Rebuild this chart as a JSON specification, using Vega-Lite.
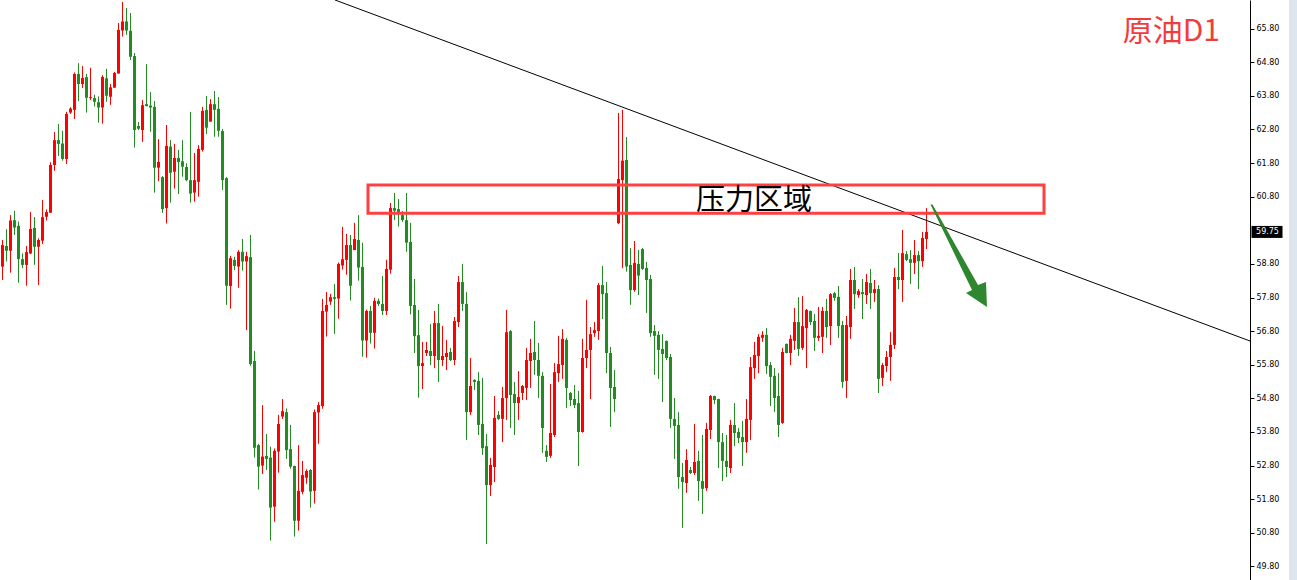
{
"$schema": "https://vega.github.io/schema/vega-lite/v6.json",
"width": 1250,
"height": 580,
"autosize": {"type": "none"},
"padding": {"left": 0, "top": 0, "right": 47, "bottom": 0},
"background": "white",
"config": {"view": {"stroke": null}},
"datasets": {
"candles": [
{"i":0,"o":58.72,"h":59.51,"l":58.32,"c":59.36},
{"i":1,"o":59.33,"h":59.83,"l":58.87,"c":59.19},
{"i":2,"o":59.19,"h":60.25,"l":58.54,"c":60.09},
{"i":3,"o":60.10,"h":60.38,"l":59.66,"c":59.88},
{"i":4,"o":59.93,"h":60.06,"l":58.24,"c":58.94},
{"i":5,"o":58.94,"h":59.11,"l":58.67,"c":58.77},
{"i":6,"o":58.77,"h":59.33,"l":58.15,"c":59.15},
{"i":7,"o":59.11,"h":60.34,"l":59.09,"c":59.84},
{"i":8,"o":59.87,"h":60.19,"l":58.77,"c":59.31},
{"i":9,"o":59.31,"h":59.56,"l":58.17,"c":59.51},
{"i":10,"o":59.49,"h":60.70,"l":59.39,"c":60.19},
{"i":11,"o":60.20,"h":60.42,"l":60.09,"c":60.34},
{"i":12,"o":60.32,"h":61.82,"l":60.32,"c":61.74},
{"i":13,"o":61.74,"h":62.72,"l":61.57,"c":62.48},
{"i":14,"o":62.48,"h":62.96,"l":62.01,"c":62.37},
{"i":15,"o":62.38,"h":62.76,"l":61.87,"c":61.92},
{"i":16,"o":61.92,"h":63.32,"l":61.77,"c":63.26},
{"i":17,"o":63.30,"h":63.46,"l":63.26,"c":63.42},
{"i":18,"o":63.38,"h":64.49,"l":63.11,"c":64.45},
{"i":19,"o":64.45,"h":64.77,"l":63.64,"c":64.15},
{"i":20,"o":64.15,"h":64.68,"l":64.03,"c":64.33},
{"i":21,"o":64.35,"h":64.45,"l":63.30,"c":63.74},
{"i":22,"o":63.73,"h":64.63,"l":63.67,"c":63.76},
{"i":23,"o":63.73,"h":63.83,"l":63.48,"c":63.62},
{"i":24,"o":63.61,"h":63.78,"l":63.00,"c":63.45},
{"i":25,"o":63.45,"h":64.41,"l":62.97,"c":64.36},
{"i":26,"o":64.32,"h":64.60,"l":63.62,"c":63.80},
{"i":27,"o":63.77,"h":64.15,"l":63.53,"c":64.05},
{"i":28,"o":64.04,"h":64.51,"l":64.04,"c":64.48},
{"i":29,"o":64.46,"h":65.96,"l":64.46,"c":65.76},
{"i":30,"o":65.74,"h":66.59,"l":65.56,"c":66.01},
{"i":31,"o":66.01,"h":66.41,"l":65.61,"c":65.74},
{"i":32,"o":65.73,"h":66.26,"l":64.86,"c":64.96},
{"i":33,"o":64.98,"h":65.07,"l":62.26,"c":62.78},
{"i":34,"o":62.90,"h":63.02,"l":62.78,"c":62.82},
{"i":35,"o":62.78,"h":63.67,"l":62.43,"c":63.52},
{"i":36,"o":63.55,"h":64.74,"l":63.49,"c":63.49},
{"i":37,"o":63.51,"h":63.91,"l":62.73,"c":63.45},
{"i":38,"o":63.47,"h":63.64,"l":60.92,"c":61.66},
{"i":39,"o":61.66,"h":62.51,"l":61.26,"c":61.83},
{"i":40,"o":61.38,"h":61.41,"l":60.32,"c":60.43},
{"i":41,"o":60.46,"h":62.93,"l":60.00,"c":62.31},
{"i":42,"o":62.29,"h":62.48,"l":60.62,"c":61.51},
{"i":43,"o":61.54,"h":62.37,"l":61.04,"c":61.95},
{"i":44,"o":61.95,"h":62.19,"l":60.88,"c":61.83},
{"i":45,"o":61.85,"h":62.48,"l":61.39,"c":61.69},
{"i":46,"o":61.68,"h":61.79,"l":61.26,"c":61.29},
{"i":47,"o":61.29,"h":63.32,"l":60.62,"c":60.89},
{"i":48,"o":60.92,"h":62.10,"l":60.65,"c":61.29},
{"i":49,"o":61.24,"h":62.33,"l":60.80,"c":62.22},
{"i":50,"o":62.19,"h":63.47,"l":62.14,"c":63.35},
{"i":51,"o":63.38,"h":63.79,"l":62.66,"c":62.85},
{"i":52,"o":63.03,"h":63.70,"l":63.03,"c":63.55},
{"i":53,"o":63.55,"h":63.94,"l":62.58,"c":63.38},
{"i":54,"o":63.41,"h":63.76,"l":62.58,"c":62.76},
{"i":55,"o":62.75,"h":62.81,"l":61.00,"c":61.29},
{"i":56,"o":61.35,"h":61.38,"l":57.58,"c":58.15},
{"i":57,"o":58.14,"h":59.04,"l":57.47,"c":58.97},
{"i":58,"o":58.92,"h":59.01,"l":58.62,"c":58.74},
{"i":59,"o":58.72,"h":59.21,"l":58.09,"c":59.16},
{"i":60,"o":59.16,"h":59.54,"l":58.60,"c":58.87},
{"i":61,"o":58.87,"h":59.16,"l":56.83,"c":59.03},
{"i":62,"o":59.00,"h":59.66,"l":55.77,"c":55.82},
{"i":63,"o":55.91,"h":56.21,"l":53.04,"c":53.33},
{"i":64,"o":53.41,"h":53.45,"l":52.09,"c":52.77},
{"i":65,"o":52.80,"h":54.60,"l":52.55,"c":53.07},
{"i":66,"o":53.09,"h":53.74,"l":52.67,"c":53.00},
{"i":67,"o":53.04,"h":53.36,"l":50.57,"c":51.55},
{"i":68,"o":51.58,"h":53.31,"l":51.13,"c":53.24},
{"i":69,"o":53.22,"h":54.31,"l":52.59,"c":54.04},
{"i":70,"o":54.26,"h":54.78,"l":54.19,"c":54.42},
{"i":71,"o":54.39,"h":54.50,"l":53.00,"c":53.26},
{"i":72,"o":53.29,"h":54.01,"l":52.71,"c":52.77},
{"i":73,"o":52.79,"h":52.80,"l":50.69,"c":51.16},
{"i":74,"o":51.16,"h":53.41,"l":50.87,"c":52.05},
{"i":75,"o":52.02,"h":52.94,"l":51.95,"c":52.52},
{"i":76,"o":52.44,"h":52.69,"l":52.26,"c":52.64},
{"i":77,"o":52.67,"h":52.70,"l":51.55,"c":52.03},
{"i":78,"o":52.05,"h":54.47,"l":51.67,"c":54.39},
{"i":79,"o":54.38,"h":54.69,"l":53.45,"c":54.60},
{"i":80,"o":54.57,"h":57.76,"l":54.49,"c":57.40},
{"i":81,"o":57.38,"h":57.96,"l":56.64,"c":57.58},
{"i":82,"o":57.68,"h":57.91,"l":57.58,"c":57.81},
{"i":83,"o":57.81,"h":58.20,"l":56.72,"c":57.76},
{"i":84,"o":57.77,"h":58.84,"l":57.17,"c":58.80},
{"i":85,"o":58.75,"h":59.90,"l":58.63,"c":58.94},
{"i":86,"o":58.92,"h":59.69,"l":58.48,"c":59.36},
{"i":87,"o":59.36,"h":59.66,"l":57.71,"c":58.15},
{"i":88,"o":59.21,"h":60.02,"l":59.21,"c":59.54},
{"i":89,"o":59.51,"h":60.25,"l":58.30,"c":58.69},
{"i":90,"o":58.71,"h":59.43,"l":56.04,"c":56.52},
{"i":91,"o":56.52,"h":57.44,"l":56.01,"c":57.40},
{"i":92,"o":57.40,"h":57.55,"l":56.43,"c":56.75},
{"i":93,"o":56.75,"h":57.79,"l":56.28,"c":57.70},
{"i":94,"o":57.70,"h":57.77,"l":57.55,"c":57.61},
{"i":95,"o":57.61,"h":58.44,"l":57.28,"c":57.40},
{"i":96,"o":57.40,"h":58.92,"l":57.28,"c":58.65},
{"i":97,"o":58.63,"h":60.61,"l":58.51,"c":60.46},
{"i":98,"o":60.46,"h":60.91,"l":60.10,"c":60.38},
{"i":99,"o":60.43,"h":60.73,"l":59.91,"c":60.33},
{"i":100,"o":60.25,"h":60.37,"l":60.05,"c":60.10},
{"i":101,"o":60.10,"h":60.91,"l":59.16,"c":59.43},
{"i":102,"o":59.45,"h":60.02,"l":57.30,"c":57.55},
{"i":103,"o":57.58,"h":58.35,"l":56.15,"c":56.65},
{"i":104,"o":56.68,"h":57.43,"l":54.82,"c":55.76},
{"i":105,"o":55.76,"h":56.48,"l":55.08,"c":55.85},
{"i":106,"o":56.15,"h":56.48,"l":56.06,"c":56.24},
{"i":107,"o":56.21,"h":57.01,"l":55.79,"c":56.06},
{"i":108,"o":56.06,"h":57.40,"l":55.70,"c":57.04},
{"i":109,"o":57.04,"h":57.61,"l":55.29,"c":55.94},
{"i":110,"o":55.94,"h":56.95,"l":55.76,"c":56.06},
{"i":111,"o":56.03,"h":56.54,"l":55.64,"c":56.15},
{"i":112,"o":56.18,"h":56.30,"l":55.91,"c":55.94},
{"i":113,"o":55.94,"h":57.22,"l":55.79,"c":57.10},
{"i":114,"o":57.07,"h":58.44,"l":56.92,"c":58.26},
{"i":115,"o":58.26,"h":58.80,"l":57.40,"c":57.61},
{"i":116,"o":57.61,"h":57.96,"l":53.56,"c":54.39},
{"i":117,"o":54.39,"h":56.00,"l":54.31,"c":55.17},
{"i":118,"o":55.35,"h":55.37,"l":55.05,"c":55.29},
{"i":119,"o":55.32,"h":55.58,"l":53.71,"c":54.01},
{"i":120,"o":54.04,"h":55.41,"l":53.12,"c":53.32},
{"i":121,"o":53.38,"h":53.74,"l":50.47,"c":52.22},
{"i":122,"o":52.22,"h":53.03,"l":51.90,"c":52.82},
{"i":123,"o":52.76,"h":54.87,"l":52.31,"c":54.22},
{"i":124,"o":54.31,"h":54.42,"l":54.16,"c":54.19},
{"i":125,"o":54.19,"h":55.14,"l":53.50,"c":54.81},
{"i":126,"o":54.81,"h":57.43,"l":54.16,"c":56.77},
{"i":127,"o":56.80,"h":56.83,"l":53.92,"c":54.90},
{"i":128,"o":54.93,"h":55.29,"l":53.71,"c":54.66},
{"i":129,"o":54.66,"h":55.61,"l":54.16,"c":54.84},
{"i":130,"o":54.96,"h":55.20,"l":54.75,"c":55.17},
{"i":131,"o":55.11,"h":56.30,"l":54.75,"c":55.94},
{"i":132,"o":55.91,"h":56.57,"l":55.11,"c":56.15},
{"i":133,"o":56.18,"h":57.10,"l":55.50,"c":55.94},
{"i":134,"o":55.94,"h":56.45,"l":54.81,"c":55.47},
{"i":135,"o":55.47,"h":55.58,"l":53.18,"c":53.92},
{"i":136,"o":53.24,"h":53.41,"l":52.91,"c":53.06},
{"i":137,"o":53.09,"h":55.23,"l":53.03,"c":53.77},
{"i":138,"o":53.71,"h":55.85,"l":53.65,"c":55.58},
{"i":139,"o":55.55,"h":56.66,"l":55.29,"c":55.82},
{"i":140,"o":55.79,"h":56.86,"l":55.38,"c":56.57},
{"i":141,"o":56.54,"h":56.60,"l":54.51,"c":55.11},
{"i":142,"o":54.96,"h":54.99,"l":54.57,"c":54.75},
{"i":143,"o":54.78,"h":55.20,"l":54.51,"c":54.60},
{"i":144,"o":54.66,"h":55.02,"l":52.79,"c":53.80},
{"i":145,"o":53.80,"h":56.57,"l":53.78,"c":56.00},
{"i":146,"o":56.00,"h":57.73,"l":55.70,"c":56.24},
{"i":147,"o":56.24,"h":56.92,"l":54.78,"c":56.71},
{"i":148,"o":56.74,"h":57.07,"l":56.63,"c":56.83},
{"i":149,"o":56.80,"h":58.23,"l":56.54,"c":58.17},
{"i":150,"o":58.17,"h":58.74,"l":57.16,"c":57.90},
{"i":151,"o":57.93,"h":58.26,"l":55.55,"c":56.15},
{"i":152,"o":56.15,"h":56.33,"l":53.95,"c":55.11},
{"i":153,"o":55.14,"h":55.64,"l":54.39,"c":54.78},
{"i":154,"o":60.01,"h":63.29,"l":59.98,"c":61.32},
{"i":155,"o":61.29,"h":63.38,"l":58.67,"c":61.87},
{"i":156,"o":61.89,"h":62.57,"l":58.57,"c":58.72},
{"i":157,"o":58.77,"h":59.27,"l":57.58,"c":58.02},
{"i":158,"o":58.02,"h":59.48,"l":57.97,"c":58.83},
{"i":159,"o":58.80,"h":59.21,"l":57.87,"c":58.45},
{"i":160,"o":59.24,"h":59.27,"l":58.62,"c":58.65},
{"i":161,"o":58.68,"h":58.86,"l":57.34,"c":58.32},
{"i":162,"o":58.35,"h":58.47,"l":56.63,"c":56.74},
{"i":163,"o":56.80,"h":56.98,"l":55.50,"c":56.66},
{"i":164,"o":56.69,"h":56.80,"l":55.38,"c":56.24},
{"i":165,"o":56.27,"h":56.71,"l":54.69,"c":56.12},
{"i":166,"o":56.51,"h":56.52,"l":55.94,"c":56.00},
{"i":167,"o":56.03,"h":56.12,"l":53.92,"c":54.19},
{"i":168,"o":54.19,"h":54.81,"l":53.00,"c":53.98},
{"i":169,"o":54.01,"h":54.39,"l":52.11,"c":52.46},
{"i":170,"o":52.46,"h":52.88,"l":50.95,"c":52.31},
{"i":171,"o":52.28,"h":53.29,"l":51.99,"c":52.97},
{"i":172,"o":52.67,"h":52.76,"l":52.55,"c":52.58},
{"i":173,"o":52.58,"h":54.04,"l":52.52,"c":52.91},
{"i":174,"o":52.94,"h":53.24,"l":51.75,"c":52.34},
{"i":175,"o":52.34,"h":53.71,"l":51.36,"c":52.11},
{"i":176,"o":52.13,"h":54.07,"l":52.05,"c":53.89},
{"i":177,"o":53.86,"h":54.90,"l":53.59,"c":54.87},
{"i":178,"o":54.87,"h":54.88,"l":54.63,"c":54.75},
{"i":179,"o":54.78,"h":54.79,"l":52.73,"c":53.50},
{"i":180,"o":53.50,"h":53.77,"l":52.34,"c":52.94},
{"i":181,"o":52.94,"h":53.71,"l":52.46,"c":52.76},
{"i":182,"o":52.73,"h":54.16,"l":52.58,"c":54.01},
{"i":183,"o":54.01,"h":54.66,"l":53.38,"c":53.77},
{"i":184,"o":53.80,"h":53.92,"l":53.47,"c":53.62},
{"i":185,"o":53.65,"h":54.13,"l":52.79,"c":53.50},
{"i":186,"o":53.50,"h":54.78,"l":53.18,"c":54.19},
{"i":187,"o":54.16,"h":56.03,"l":53.56,"c":55.73},
{"i":188,"o":55.70,"h":56.48,"l":55.38,"c":56.09},
{"i":189,"o":56.06,"h":56.71,"l":55.55,"c":56.63},
{"i":190,"o":56.60,"h":56.80,"l":56.48,"c":56.69},
{"i":191,"o":56.69,"h":56.89,"l":55.53,"c":55.76},
{"i":192,"o":55.79,"h":55.88,"l":54.57,"c":55.44},
{"i":193,"o":55.47,"h":55.70,"l":54.39,"c":54.81},
{"i":194,"o":54.87,"h":55.55,"l":53.65,"c":54.01},
{"i":195,"o":54.07,"h":56.30,"l":54.04,"c":56.18},
{"i":196,"o":56.42,"h":56.43,"l":56.14,"c":56.15},
{"i":197,"o":56.15,"h":56.69,"l":55.79,"c":56.57},
{"i":198,"o":56.51,"h":57.49,"l":56.24,"c":57.07},
{"i":199,"o":57.07,"h":57.81,"l":56.06,"c":56.27},
{"i":200,"o":56.30,"h":57.84,"l":56.24,"c":56.95},
{"i":201,"o":56.89,"h":57.46,"l":55.70,"c":57.43},
{"i":202,"o":57.40,"h":57.41,"l":56.98,"c":57.07},
{"i":203,"o":57.10,"h":57.31,"l":56.21,"c":56.60},
{"i":204,"o":56.60,"h":57.52,"l":56.51,"c":56.66},
{"i":205,"o":56.63,"h":57.52,"l":56.15,"c":57.40},
{"i":206,"o":57.40,"h":57.76,"l":56.60,"c":56.92},
{"i":207,"o":56.95,"h":57.93,"l":56.39,"c":57.90},
{"i":208,"o":57.93,"h":57.96,"l":57.70,"c":57.79},
{"i":209,"o":57.82,"h":58.14,"l":56.60,"c":56.95},
{"i":210,"o":56.98,"h":57.10,"l":55.11,"c":55.29},
{"i":211,"o":55.32,"h":57.25,"l":54.81,"c":56.98},
{"i":212,"o":56.92,"h":58.65,"l":56.57,"c":58.32},
{"i":213,"o":58.32,"h":58.71,"l":57.46,"c":57.90},
{"i":214,"o":57.87,"h":58.05,"l":57.79,"c":57.99},
{"i":215,"o":57.96,"h":58.35,"l":57.16,"c":57.90},
{"i":216,"o":57.87,"h":58.50,"l":57.61,"c":58.26},
{"i":217,"o":58.23,"h":58.65,"l":57.46,"c":57.93},
{"i":218,"o":57.93,"h":58.32,"l":57.67,"c":58.05},
{"i":219,"o":58.05,"h":58.17,"l":54.96,"c":55.38},
{"i":220,"o":55.41,"h":55.85,"l":55.17,"c":55.79},
{"i":221,"o":55.76,"h":56.21,"l":55.58,"c":56.03},
{"i":222,"o":56.03,"h":56.77,"l":55.32,"c":56.39},
{"i":223,"o":56.39,"h":58.68,"l":56.27,"c":58.41},
{"i":224,"o":58.41,"h":59.12,"l":58.05,"c":58.32},
{"i":225,"o":58.32,"h":59.81,"l":57.67,"c":59.12},
{"i":226,"o":59.09,"h":59.18,"l":58.88,"c":58.92},
{"i":227,"o":58.94,"h":59.21,"l":58.20,"c":58.83},
{"i":228,"o":58.83,"h":59.51,"l":58.50,"c":59.06},
{"i":229,"o":59.06,"h":59.18,"l":58.05,"c":58.88},
{"i":230,"o":58.88,"h":59.75,"l":58.71,"c":59.57},
{"i":231,"o":59.54,"h":60.46,"l":59.24,"c":59.75}
],
"trend": [{"i": 83.125, "price": 66.6476}, {"i": 311.875, "price": 56.506}],
"zone": [{"i0": 91.375, "i1": 260.375, "top": 61.146, "bottom": 60.304, "label": "压力区域", "mid": 187.875, "pmid": 60.67}],
"title": [{"i": 292.2, "price": 65.70, "label": "原油D1"}],
"arrow": [{"i": 239.0, "price": 59.049}],
"last": [{"price": 59.75, "label": "59.75"}]
},
"layer": [
{
"data": {"name": "candles"},
"mark": {"type": "rule", "strokeWidth": 1},
"encoding": {
"x": {"field": "i", "type": "quantitative", "scale": {"domain": [-0.625, 311.875], "nice": false, "zero": false, "padding": 0}, "axis": null},
"y": {"field": "l", "type": "quantitative", "scale": {"domain": [49.3985, 66.6476], "nice": false, "zero": false},
"axis": {"orient": "right", "values": [49.8, 50.8, 51.8, 52.8, 53.8, 54.8, 55.8, 56.8, 57.8, 58.8, 60.8, 61.8, 62.8, 63.8, 64.8, 65.8], "format": ".2f", "grid": false, "title": null, "domainColor": "#000000", "tickColor": "#000000", "tickSize": 4, "labelFont": "DejaVu Sans", "labelFontSize": 8, "labelColor": "#000000", "labelPadding": 2, "labelAlign": "left", "labelBaseline": "middle", "labelFlush": false, "labelOverlap": false, "labelBound": false}},
"y2": {"field": "h"},
"color": {"condition": {"test": "datum.c >= datum.o", "value": "#ff0000"}, "value": "#228b22"}
}
},
{
"data": {"name": "candles"},
"mark": {"type": "bar", "orient": "vertical", "size": 3},
"encoding": {
"x": {"field": "i", "type": "quantitative", "scale": {"domain": [-0.625, 311.875], "nice": false, "zero": false, "padding": 0}, "axis": null},
"y": {"field": "o", "type": "quantitative", "scale": {"domain": [49.3985, 66.6476], "nice": false, "zero": false},
"axis": {"orient": "right", "values": [49.8, 50.8, 51.8, 52.8, 53.8, 54.8, 55.8, 56.8, 57.8, 58.8, 60.8, 61.8, 62.8, 63.8, 64.8, 65.8], "format": ".2f", "grid": false, "title": null, "domainColor": "#000000", "tickColor": "#000000", "tickSize": 4, "labelFont": "DejaVu Sans", "labelFontSize": 8, "labelColor": "#000000", "labelPadding": 2, "labelAlign": "left", "labelBaseline": "middle", "labelFlush": false, "labelOverlap": false, "labelBound": false}},
"y2": {"field": "c"},
"color": {"condition": {"test": "datum.c >= datum.o", "value": "#ff0000"}, "value": "#228b22"}
}
},
{
"data": {"name": "trend"},
"mark": {"type": "line", "color": "#000000", "strokeWidth": 1, "clip": true},
"encoding": {
"x": {"field": "i", "type": "quantitative", "scale": {"domain": [-0.625, 311.875], "nice": false, "zero": false, "padding": 0}, "axis": null},
"y": {"field": "price", "type": "quantitative", "scale": {"domain": [49.3985, 66.6476], "nice": false, "zero": false},
"axis": {"orient": "right", "values": [49.8, 50.8, 51.8, 52.8, 53.8, 54.8, 55.8, 56.8, 57.8, 58.8, 60.8, 61.8, 62.8, 63.8, 64.8, 65.8], "format": ".2f", "grid": false, "title": null, "domainColor": "#000000", "tickColor": "#000000", "tickSize": 4, "labelFont": "DejaVu Sans", "labelFontSize": 8, "labelColor": "#000000", "labelPadding": 2, "labelAlign": "left", "labelBaseline": "middle", "labelFlush": false, "labelOverlap": false, "labelBound": false}}
}
},
{
"data": {"name": "zone"},
"mark": {"type": "rect", "filled": false, "stroke": "#ff4040", "strokeWidth": 3},
"encoding": {
"x": {"field": "i0", "type": "quantitative", "scale": {"domain": [-0.625, 311.875], "nice": false, "zero": false, "padding": 0}, "axis": null},
"x2": {"field": "i1"},
"y": {"field": "top", "type": "quantitative", "scale": {"domain": [49.3985, 66.6476], "nice": false, "zero": false},
"axis": {"orient": "right", "values": [49.8, 50.8, 51.8, 52.8, 53.8, 54.8, 55.8, 56.8, 57.8, 58.8, 60.8, 61.8, 62.8, 63.8, 64.8, 65.8], "format": ".2f", "grid": false, "title": null, "domainColor": "#000000", "tickColor": "#000000", "tickSize": 4, "labelFont": "DejaVu Sans", "labelFontSize": 8, "labelColor": "#000000", "labelPadding": 2, "labelAlign": "left", "labelBaseline": "middle", "labelFlush": false, "labelOverlap": false, "labelBound": false}},
"y2": {"field": "bottom"}
}
},
{
"data": {"name": "zone"},
"mark": {"type": "text", "font": "Noto Sans CJK SC", "fontSize": 29, "color": "#000000", "align": "center", "baseline": "middle"},
"encoding": {
"x": {"field": "mid", "type": "quantitative", "scale": {"domain": [-0.625, 311.875], "nice": false, "zero": false, "padding": 0}, "axis": null},
"y": {"field": "pmid", "type": "quantitative", "scale": {"domain": [49.3985, 66.6476], "nice": false, "zero": false},
"axis": {"orient": "right", "values": [49.8, 50.8, 51.8, 52.8, 53.8, 54.8, 55.8, 56.8, 57.8, 58.8, 60.8, 61.8, 62.8, 63.8, 64.8, 65.8], "format": ".2f", "grid": false, "title": null, "domainColor": "#000000", "tickColor": "#000000", "tickSize": 4, "labelFont": "DejaVu Sans", "labelFontSize": 8, "labelColor": "#000000", "labelPadding": 2, "labelAlign": "left", "labelBaseline": "middle", "labelFlush": false, "labelOverlap": false, "labelBound": false}},
"text": {"field": "label"}
}
},
{
"data": {"name": "title"},
"mark": {"type": "text", "font": "Noto Sans CJK SC", "fontSize": 30, "color": "#f23c3c", "align": "center", "baseline": "middle"},
"encoding": {
"x": {"field": "i", "type": "quantitative", "scale": {"domain": [-0.625, 311.875], "nice": false, "zero": false, "padding": 0}, "axis": null},
"y": {"field": "price", "type": "quantitative", "scale": {"domain": [49.3985, 66.6476], "nice": false, "zero": false},
"axis": {"orient": "right", "values": [49.8, 50.8, 51.8, 52.8, 53.8, 54.8, 55.8, 56.8, 57.8, 58.8, 60.8, 61.8, 62.8, 63.8, 64.8, 65.8], "format": ".2f", "grid": false, "title": null, "domainColor": "#000000", "tickColor": "#000000", "tickSize": 4, "labelFont": "DejaVu Sans", "labelFontSize": 8, "labelColor": "#000000", "labelPadding": 2, "labelAlign": "left", "labelBaseline": "middle", "labelFlush": false, "labelOverlap": false, "labelBound": false}},
"text": {"field": "label"}
}
},
{
"data": {"name": "arrow"},
"mark": {"type": "point", "filled": true, "color": "#2e862e", "opacity": 1, "strokeWidth": 0, "size": 10609,
"shape": "M-0.544,-0.990L-0.505,-0.990L0.379,0.573L0.534,0.515L0.553,1.0L0.146,0.728L0.262,0.670Z"},
"encoding": {
"x": {"field": "i", "type": "quantitative", "scale": {"domain": [-0.625, 311.875], "nice": false, "zero": false, "padding": 0}, "axis": null},
"y": {"field": "price", "type": "quantitative", "scale": {"domain": [49.3985, 66.6476], "nice": false, "zero": false},
"axis": {"orient": "right", "values": [49.8, 50.8, 51.8, 52.8, 53.8, 54.8, 55.8, 56.8, 57.8, 58.8, 60.8, 61.8, 62.8, 63.8, 64.8, 65.8], "format": ".2f", "grid": false, "title": null, "domainColor": "#000000", "tickColor": "#000000", "tickSize": 4, "labelFont": "DejaVu Sans", "labelFontSize": 8, "labelColor": "#000000", "labelPadding": 2, "labelAlign": "left", "labelBaseline": "middle", "labelFlush": false, "labelOverlap": false, "labelBound": false}}
}
},
{
"data": {"name": "last"},
"mark": {"type": "point", "filled": true, "color": "#000000", "opacity": 1, "strokeWidth": 0, "size": 961,
"shape": "M-1,-0.387L1,-0.387L1,0.387L-1,0.387Z"},
"encoding": {
"x": {"datum": 316.125, "type": "quantitative", "scale": {"domain": [-0.625, 311.875], "nice": false, "zero": false, "padding": 0}, "axis": null},
"y": {"field": "price", "type": "quantitative", "scale": {"domain": [49.3985, 66.6476], "nice": false, "zero": false},
"axis": {"orient": "right", "values": [49.8, 50.8, 51.8, 52.8, 53.8, 54.8, 55.8, 56.8, 57.8, 58.8, 60.8, 61.8, 62.8, 63.8, 64.8, 65.8], "format": ".2f", "grid": false, "title": null, "domainColor": "#000000", "tickColor": "#000000", "tickSize": 4, "labelFont": "DejaVu Sans", "labelFontSize": 8, "labelColor": "#000000", "labelPadding": 2, "labelAlign": "left", "labelBaseline": "middle", "labelFlush": false, "labelOverlap": false, "labelBound": false}}
}
},
{
"data": {"name": "last"},
"mark": {"type": "text", "font": "DejaVu Sans", "fontSize": 8, "color": "#ffffff", "align": "center", "baseline": "middle"},
"encoding": {
"x": {"datum": 316.25, "type": "quantitative", "scale": {"domain": [-0.625, 311.875], "nice": false, "zero": false, "padding": 0}, "axis": null},
"y": {"field": "price", "type": "quantitative", "scale": {"domain": [49.3985, 66.6476], "nice": false, "zero": false},
"axis": {"orient": "right", "values": [49.8, 50.8, 51.8, 52.8, 53.8, 54.8, 55.8, 56.8, 57.8, 58.8, 60.8, 61.8, 62.8, 63.8, 64.8, 65.8], "format": ".2f", "grid": false, "title": null, "domainColor": "#000000", "tickColor": "#000000", "tickSize": 4, "labelFont": "DejaVu Sans", "labelFontSize": 8, "labelColor": "#000000", "labelPadding": 2, "labelAlign": "left", "labelBaseline": "middle", "labelFlush": false, "labelOverlap": false, "labelBound": false}},
"text": {"field": "label"}
}
},
{
"data": {"name": "last"},
"mark": {"type": "rect", "color": "#dce6f1"},
"encoding": {
"x": {"datum": 322.125, "type": "quantitative", "scale": {"domain": [-0.625, 311.875], "nice": false, "zero": false, "padding": 0}, "axis": null},
"x2": {"datum": 323.7},
"y": {"datum": 66.6476, "type": "quantitative", "scale": {"domain": [49.3985, 66.6476], "nice": false, "zero": false},
"axis": {"orient": "right", "values": [49.8, 50.8, 51.8, 52.8, 53.8, 54.8, 55.8, 56.8, 57.8, 58.8, 60.8, 61.8, 62.8, 63.8, 64.8, 65.8], "format": ".2f", "grid": false, "title": null, "domainColor": "#000000", "tickColor": "#000000", "tickSize": 4, "labelFont": "DejaVu Sans", "labelFontSize": 8, "labelColor": "#000000", "labelPadding": 2, "labelAlign": "left", "labelBaseline": "middle", "labelFlush": false, "labelOverlap": false, "labelBound": false}},
"y2": {"datum": 49.3985}
}
},
{
"data": {"name": "last"},
"mark": {"type": "rule", "color": "#c8c8c8", "strokeWidth": 1},
"encoding": {
"x": {"datum": 321.875, "type": "quantitative", "scale": {"domain": [-0.625, 311.875], "nice": false, "zero": false, "padding": 0}, "axis": null},
"y": {"datum": 66.6476, "type": "quantitative", "scale": {"domain": [49.3985, 66.6476], "nice": false, "zero": false},
"axis": {"orient": "right", "values": [49.8, 50.8, 51.8, 52.8, 53.8, 54.8, 55.8, 56.8, 57.8, 58.8, 60.8, 61.8, 62.8, 63.8, 64.8, 65.8], "format": ".2f", "grid": false, "title": null, "domainColor": "#000000", "tickColor": "#000000", "tickSize": 4, "labelFont": "DejaVu Sans", "labelFontSize": 8, "labelColor": "#000000", "labelPadding": 2, "labelAlign": "left", "labelBaseline": "middle", "labelFlush": false, "labelOverlap": false, "labelBound": false}},
"y2": {"datum": 49.3985}
}
}
]
}
